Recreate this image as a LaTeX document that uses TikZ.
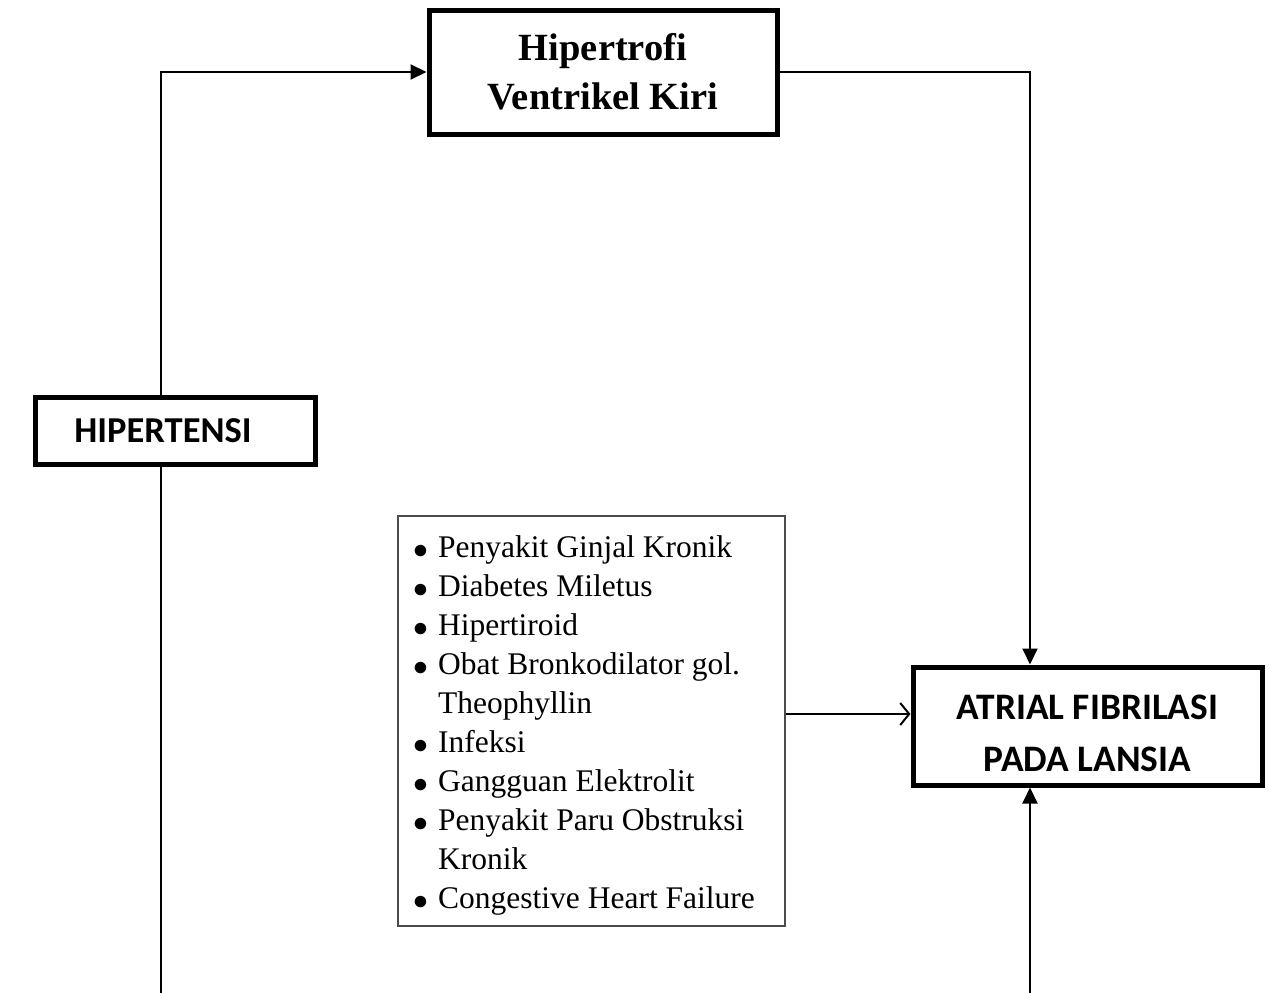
\documentclass[tikz,border=0pt]{standalone}
\usepackage{fontspec}
\usepackage{graphicx}
\setmainfont{Liberation Serif}
\newfontfamily\calib{Carlito}
\usetikzlibrary{arrows.meta}
\tikzset{
  thickbox/.style={draw=black, line width=5pt, fill=white, inner sep=0pt, align=center},
  listbox/.style={draw=black!70, line width=1.5pt, inner sep=0pt},
  conn/.style={draw=black, line width=2pt},
  solidtip/.style={-{Triangle[length=16pt,width=15pt]}},
  opentip/.style={-{Straight Barb[length=9pt,width=22pt,line width=2pt]}}
}
\newcommand{\lbul}{\makebox[24pt][l]{\hspace*{-1pt}\raisebox{-1pt}{\scalebox{1.2}{$\bullet$}}}}
\begin{document}
\begin{tikzpicture}[x=1pt,y=-1pt]
\useasboundingbox (0,0) rectangle (1269,993);
% boxes
\node[thickbox, minimum width=348pt, minimum height=124pt,
      font=\fontsize{38.5}{49}\selectfont\bfseries] (hvk) at (603,72)
  {Hipertrofi\\ Ventrikel Kiri};
\node[thickbox, minimum width=280pt, minimum height=67pt,
      font=\calib\fontsize{36.5}{44}\selectfont\bfseries] (hip) at (175,430.5)
  {HIPERTENSI\hspace*{24pt}};
\node[thickbox, minimum width=349pt, minimum height=118pt,
      font=\calib\fontsize{37.4}{52}\selectfont\bfseries] (af) at (1087.5,726)
  {\rule{0pt}{40pt}ATRIAL FIBRILASI\\ PADA LANSIA};
\node[listbox, minimum width=387pt, minimum height=410pt] (lst) at (591.5,721) {};
\node[anchor=north west, inner sep=0pt] (items) at (414,530)
  {\fontsize{31.5}{39}\selectfont
   \begin{tabular}{@{}l@{}l@{}}
   \lbul & Penyakit Ginjal Kronik\\
   \lbul & Diabetes Miletus\\
   \lbul & Hipertiroid\\
   \lbul & Obat Bronkodilator gol.\\
         & Theophyllin\\
   \lbul & Infeksi\\
   \lbul & Gangguan Elektrolit\\
   \lbul & Penyakit Paru Obstruksi\\
         & Kronik\\
   \lbul & Congestive Heart Failure
   \end{tabular}};
% coordinates
\coordinate (c1) at (161,70);
\coordinate (b1) at (161,993);
\coordinate (c2) at (1030,70);
\coordinate (b2) at (1030,993);
\coordinate (c3) at (850,714);
% connectors
\draw[conn, solidtip] (hip.north -| c1) |- (hvk.west);
\draw[conn] (hip.south -| c1) -- (b1);
\draw[conn, solidtip] (hvk.east) -| (af.north -| c2);
\draw[conn, opentip] (lst.east |- c3) -- (af.west |- c3);
\draw[conn, solidtip] (b2) -- (af.south -| b2);
\end{tikzpicture}
\end{document}
